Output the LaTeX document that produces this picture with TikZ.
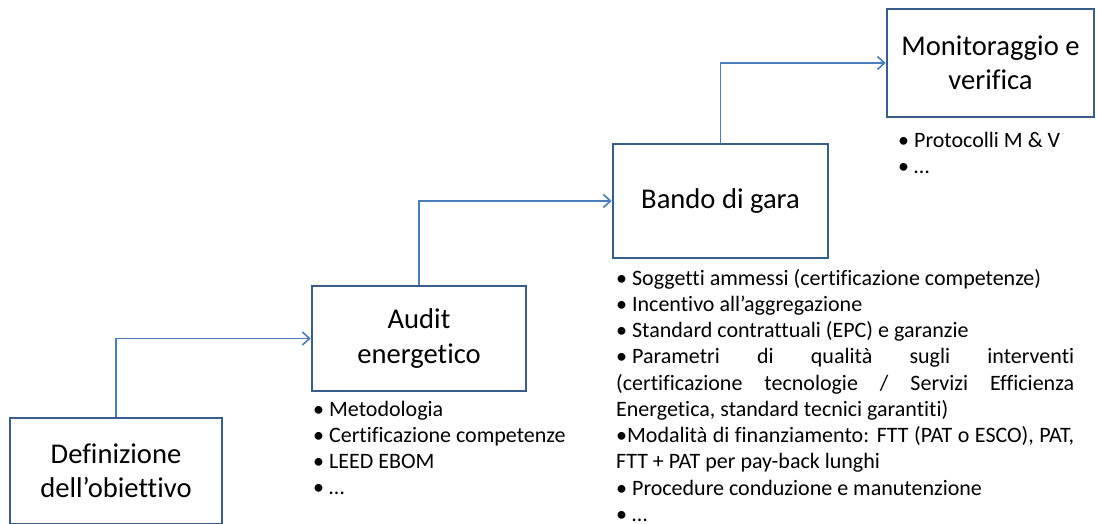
\documentclass[tikz,border=0pt]{standalone}
\usepackage{fontspec}
\setmainfont{Carlito}[Ligatures={TeX,NoCommon}]
\usetikzlibrary{arrows.meta}
\definecolor{boxblue}{RGB}{56,93,138}
\definecolor{linkblue}{RGB}{74,126,187}
\newcommand{\bul}{\mbox{\textbullet\ }}
\begin{document}
\begin{tikzpicture}[x=1pt,y=-1pt,
  box/.style={draw=boxblue, line width=2.7pt, inner sep=0pt, align=center,
    font=\fontsize{28.6}{34.5}\selectfont, text=black},
  link/.style={draw=linkblue, line width=1.6pt,
    -{Straight Barb[length=7pt,width=13pt,line width=1.6pt]}},
  list/.style={anchor=base west, inner sep=0pt, align=justify,
    font=\fontsize{22}{26.25}\selectfont, text=black}]
\useasboundingbox (0,0) rectangle (1097,523);
\fill[white] (0,0) rectangle (1097,523);
\clip (0,0) rectangle (1097,523);

\node[box, minimum width=212, minimum height=106] (def) at (116,471) {Definizione\\dell’obiettivo};
\node[box, minimum width=214, minimum height=105] (aud) at (419,338.5) {Audit\\energetico};
\node[box, minimum width=215, minimum height=114] (ban) at (720.5,201) {Bando di gara};
\node[box, minimum width=207, minimum height=108] (mon) at (990.5,63) {Monitoraggio e\\verifica};

\draw[link] (def.north) |- (aud.west);
\draw[link] (aud.north) |- (ban.west);
\draw[link] (ban.north) |- (mon.west);

\node[list, text width=300] (l2) at (313,416) {\bul Metodologia\\
\bul Certificazione competenze\\
\bul LEED EBOM\\
\bul …};

\node[list, text width=458] (l3) at (616,285) {\bul Soggetti ammessi (certificazione competenze)\\
\bul Incentivo all’aggregazione\\
\bul Standard contrattuali (EPC) e garanzie\\
\bul Parametri di qualità sugli interventi\linebreak
(certificazione tecnologie / Servizi Efficienza\linebreak
Energetica, standard tecnici garantiti)\\
\textbullet Modalità di finanziamento: FTT (PAT o ESCO), PAT,\linebreak
FTT + PAT per pay-back lunghi\\
\bul Procedure conduzione e manutenzione\\
\bul …};

\node[list, text width=190] (l4) at (898,147) {\bul Protocolli M \& V\\
\bul …};
\end{tikzpicture}
\end{document}
